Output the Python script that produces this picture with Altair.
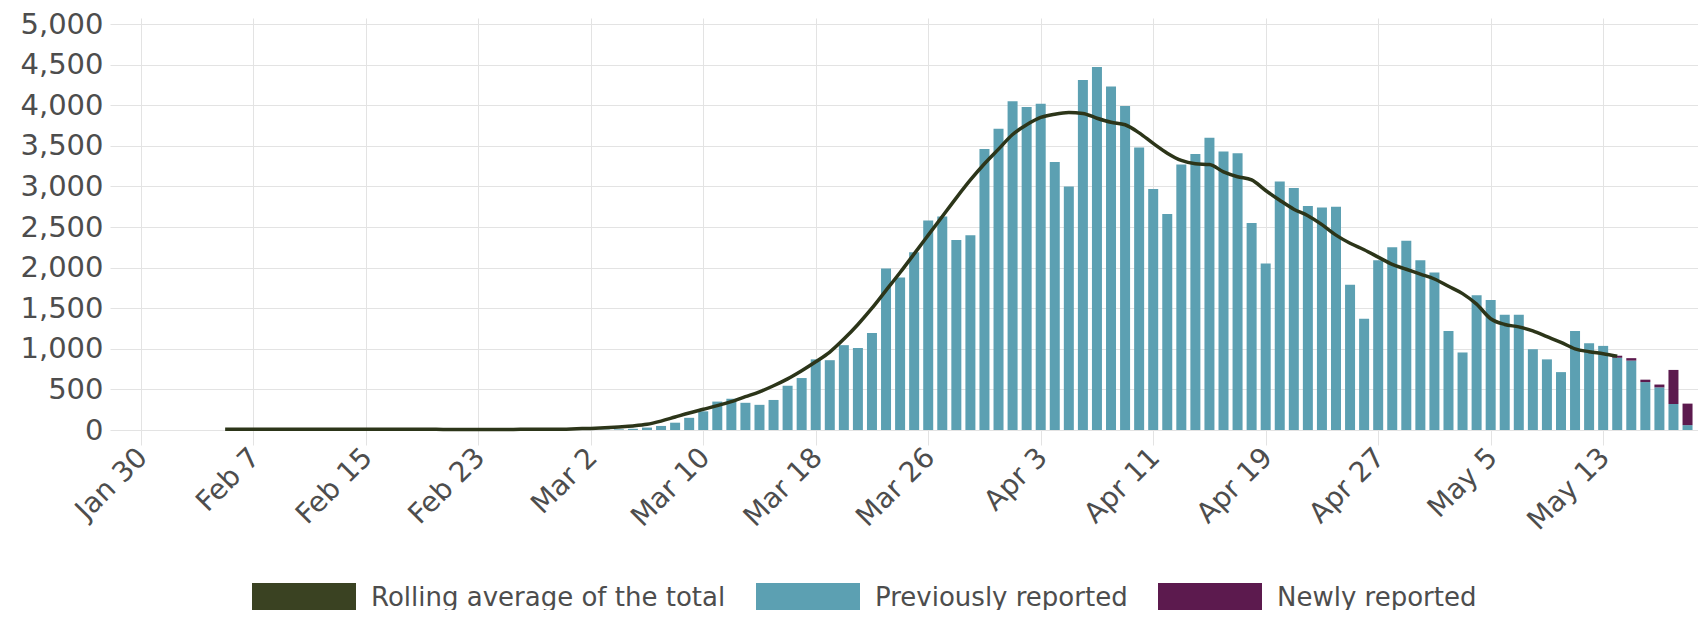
import altair as alt
import pandas as pd

# ---------------- data ----------------
bar_start = "2020-03-01"
prev_reported = [
    2, 3, 5, 8, 15, 30, 50, 90, 150, 230,            # Mar 1-10
    350, 385, 335, 310, 370, 545, 640, 870, 860, 1045,  # Mar 11-20
    1010, 1195, 1990, 1880, 2190, 2580, 2630, 2340, 2400, 3460, 3710,  # Mar 21-31
    4050, 3980, 4020, 3300, 3000, 4310, 4470, 4230, 3990, 3480,  # Apr 1-10
    2970, 2660, 3270, 3400, 3600, 3430, 3410, 2550, 2050, 3060,  # Apr 11-20
    2980, 2760, 2740, 2750, 1790, 1370, 2090, 2250, 2330, 2090,  # Apr 21-30
    1940, 1220, 955, 1660, 1600, 1420, 1420, 995, 870, 713,      # May 1-10
    1220, 1070, 1036, 890, 855, 590, 525, 320, 60,               # May 11-19
]
new_reported_tail = [25, 30, 30, 35, 420, 265]                   # May 14-19
new_reported = [0] * (len(prev_reported) - len(new_reported_tail)) + new_reported_tail

avg_start = "2020-02-05"
rolling_avg = [
    10, 10, 10, 10, 10, 10, 10, 10, 10, 10,           # Feb 5-14
    8, 8, 8, 8, 8, 8, 5, 5, 5, 5, 5, 8, 8, 8, 8,      # Feb 15-29
    15, 20, 28, 38, 50, 70, 110, 160, 210, 255,       # Mar 1-10
    300, 350, 410, 470, 545, 630, 730, 840, 960, 1120,  # Mar 11-20
    1300, 1500, 1720, 1940, 2170, 2400, 2630, 2860, 3080, 3280, 3460,  # Mar 21-31
    3640, 3760, 3850, 3890, 3910, 3900, 3840, 3790, 3760, 3660,  # Apr 1-10
    3530, 3410, 3320, 3280, 3270, 3180, 3120, 3080, 2950, 2830,  # Apr 11-20
    2720, 2640, 2530, 2400, 2300, 2220, 2130, 2040, 1980, 1920,  # Apr 21-30
    1860, 1770, 1680, 1550, 1370, 1300, 1270, 1220, 1150, 1080,  # May 1-10
    1000, 965, 940, 910,                                         # May 11-14
]

tick_dates = ["2020-01-30", "2020-02-07", "2020-02-15", "2020-02-23", "2020-03-02",
              "2020-03-10", "2020-03-18", "2020-03-26", "2020-04-03", "2020-04-11",
              "2020-04-19", "2020-04-27", "2020-05-05", "2020-05-13"]
y_ticks = [0, 500, 1000, 1500, 2000, 2500, 3000, 3500, 4000, 4500, 5000]

series_names = ["Rolling average of the total", "Previously reported", "Newly reported"]
series_colors = ["#3a4222", "#5ca0b2", "#5c1a4e"]
line_color = "#2c3519"
grid_color = "#e3e3e3"
text_color = "#4d4d4d"
font = "DejaVu Sans"

# ---------------- tables ----------------
bar_dates = pd.date_range(bar_start, periods=len(prev_reported), freq="D").strftime("%Y-%m-%d")
rows = []
for d, p, n in zip(bar_dates, prev_reported, new_reported):
    rows.append({"date": d, "series": series_names[1], "value": p, "ord": 0})
    rows.append({"date": d, "series": series_names[2], "value": n, "ord": 1})
bars_df = pd.DataFrame(rows)

avg_dates = pd.date_range(avg_start, periods=len(rolling_avg), freq="D").strftime("%Y-%m-%d")
line_df = pd.DataFrame({"date": avg_dates, "value": rolling_avg})


def dt(s, hours=0, minutes=0):
    y, m, d = (int(v) for v in s.split("-"))
    return alt.DateTime(year=y, month=m, date=d, hours=hours, minutes=minutes, utc=True)


x_scale = alt.Scale(type="utc", domain=[dt("2020-01-28", 4), dt("2020-05-19", 9, 20)])
x_axis = alt.Axis(
    values=[dt(s) for s in tick_dates],
    labelExpr="utcFormat(datum.value, '%b %-d')",
    labelAngle=-45, labelAlign="right", labelBaseline="top",
    labelPadding=-2, labelOffset=-8,
    labelFont=font, labelFontSize=28, labelColor=text_color,
    labelOverlap=False, labelFlush=False, labelBound=False,
    tickSize=15, tickColor=grid_color, domain=False,
    grid=True, gridColor=grid_color, title=None,
)
y_scale = alt.Scale(domain=[0, 5075], nice=False)
y_axis = alt.Axis(
    values=y_ticks, labelExpr="format(datum.value, ',.0f')",
    labelFont=font, labelFontSize=29, labelColor=text_color,
    labelPadding=7, ticks=False, domain=False, grid=True, gridColor=grid_color, title=None,
)

legend = alt.Legend(
    title=None, orient="none", legendX=142, legendY=565, direction="horizontal",
    symbolType="M-1,-0.28L1,-0.28L1,0.28L-1,0.28Z", symbolSize=10816,
    symbolStrokeWidth=0, symbolOpacity=1, clipHeight=29, labelOffset=15,
    columnPadding=30, labelFont=font, labelFontSize=26, labelColor=text_color,
    labelLimit=1000, padding=0,
)

bars = alt.Chart(bars_df).mark_bar(width=10, clip=True).encode(
    x=alt.X("date:T", scale=x_scale, axis=x_axis),
    y=alt.Y("value:Q", stack="zero", scale=y_scale, axis=y_axis),
    color=alt.Color("series:N", scale=alt.Scale(domain=series_names, range=series_colors),
                    legend=legend),
    order=alt.Order("ord:Q", sort="ascending"),
)

line = alt.Chart(line_df).mark_line(color=line_color, strokeWidth=3.5, interpolate="monotone").encode(
    x=alt.X("date:T", scale=x_scale, axis=x_axis),
    y=alt.Y("value:Q", scale=y_scale, axis=y_axis),
)

chart = alt.layer(bars, line).properties(
    width=1588, height=412,
    autosize=alt.AutoSizeParams(type="none"),
    padding={"left": 102, "top": 10, "right": 0, "bottom": 180},
    background="white",
).configure_view(strokeWidth=0)

chart.save("out.html", embed_options={"renderer": "svg", "actions": False})
